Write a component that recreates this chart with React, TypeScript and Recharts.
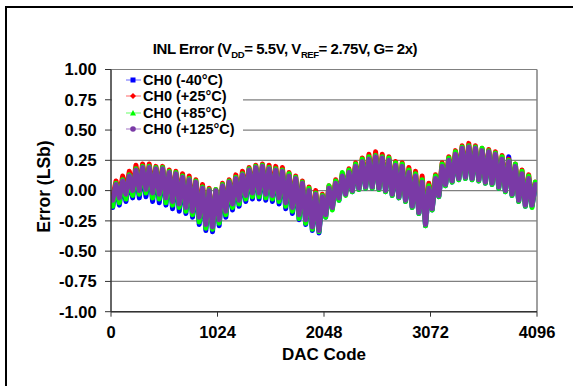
import React from 'react';
import { LineChart, Line, XAxis, YAxis, CartesianGrid, Legend, ReferenceLine } from 'recharts';

const FONT = '"Liberation Sans", Arial, Helvetica, sans-serif';

const X_TICKS = [0, 1024, 2048, 3072, 4096];
const Y_TICKS = [-1, -0.75, -0.5, -0.25, 0, 0.25, 0.5, 0.75, 1];
const SEGMENT_SIZE = 64; // DAC codes per sawtooth segment

// -40°C
const B_LO = [-0.14,-0.12,-0.09,-0.06,-0.06,-0.05,-0.09,-0.10,-0.12,-0.15,-0.17,-0.19,-0.22,-0.28,-0.33,-0.34,-0.29,-0.22,-0.16,-0.13,-0.09,-0.07,-0.07,-0.08,-0.09,-0.11,-0.15,-0.19,-0.24,-0.28,-0.33,-0.35,-0.22,-0.15,-0.08,-0.01,-0.01,0.01,0.02,0.02,0.01,-0.01,-0.04,-0.06,-0.09,-0.14,-0.19,-0.29,-0.16,-0.05,0.04,0.07,0.09,0.10,0.09,0.08,0.06,0.05,0.02,-0.01,-0.04,-0.09,-0.13,-0.13];
const B_HI = [0.04,0.07,0.11,0.16,0.18,0.18,0.17,0.17,0.14,0.13,0.10,0.08,0.06,0.01,-0.01,-0.01,0.03,0.06,0.09,0.12,0.16,0.18,0.19,0.17,0.16,0.15,0.11,0.09,0.05,-0.01,-0.04,-0.06,0.01,0.06,0.11,0.14,0.19,0.23,0.25,0.30,0.26,0.24,0.20,0.19,0.14,0.11,0.06,0.01,0.09,0.19,0.24,0.29,0.34,0.35,0.34,0.32,0.31,0.30,0.25,0.28,0.19,0.13,0.09,0.04];
// +25°C
const R_LO = [-0.06,-0.04,-0.01,0.02,0.02,0.03,0.00,-0.01,-0.04,-0.07,-0.09,-0.12,-0.15,-0.20,-0.26,-0.28,-0.22,-0.15,-0.09,-0.06,-0.02,0.00,0.00,-0.01,-0.02,-0.04,-0.08,-0.12,-0.18,-0.22,-0.28,-0.30,-0.18,-0.12,-0.04,-0.01,0.02,0.04,0.05,0.05,0.04,0.02,-0.01,-0.03,-0.06,-0.10,-0.15,-0.25,-0.12,-0.02,0.07,0.10,0.12,0.13,0.12,0.11,0.09,0.08,0.05,0.02,-0.01,-0.06,-0.10,-0.10];
const R_HI = [0.08,0.12,0.16,0.21,0.22,0.22,0.20,0.20,0.17,0.16,0.14,0.12,0.09,0.05,0.02,0.01,0.06,0.09,0.13,0.16,0.19,0.21,0.22,0.21,0.20,0.19,0.15,0.12,0.08,0.03,0.00,-0.03,0.04,0.09,0.14,0.18,0.23,0.27,0.30,0.32,0.30,0.28,0.24,0.23,0.19,0.16,0.12,0.06,0.13,0.23,0.28,0.33,0.37,0.39,0.37,0.35,0.34,0.32,0.29,0.26,0.22,0.17,0.13,0.07];
// +85°C
const G_LO = [-0.13,-0.10,-0.07,-0.04,-0.03,-0.02,-0.06,-0.07,-0.10,-0.12,-0.14,-0.17,-0.20,-0.26,-0.31,-0.32,-0.27,-0.20,-0.14,-0.11,-0.07,-0.05,-0.05,-0.06,-0.07,-0.09,-0.13,-0.17,-0.23,-0.27,-0.32,-0.34,-0.22,-0.16,-0.08,-0.04,-0.01,0.01,0.02,0.02,0.01,-0.01,-0.04,-0.06,-0.09,-0.14,-0.19,-0.29,-0.16,-0.05,0.04,0.07,0.09,0.10,0.09,0.08,0.06,0.05,0.02,-0.01,-0.04,-0.09,-0.13,-0.14];
const G_HI = [0.06,0.09,0.13,0.18,0.20,0.20,0.19,0.19,0.16,0.15,0.12,0.10,0.08,0.03,0.01,0.01,0.05,0.08,0.11,0.14,0.18,0.20,0.21,0.19,0.18,0.17,0.14,0.11,0.07,0.02,-0.02,-0.04,0.04,0.08,0.15,0.17,0.22,0.26,0.28,0.29,0.28,0.27,0.23,0.22,0.17,0.14,0.09,0.04,0.12,0.22,0.27,0.32,0.36,0.37,0.36,0.35,0.33,0.31,0.28,0.25,0.22,0.16,0.12,0.07];
// +125°C
const P_LO = [-0.08,-0.06,-0.03,0.00,0.00,0.01,-0.02,-0.03,-0.06,-0.09,-0.11,-0.14,-0.17,-0.22,-0.28,-0.30,-0.24,-0.17,-0.11,-0.08,-0.04,-0.02,-0.02,-0.03,-0.04,-0.06,-0.10,-0.14,-0.20,-0.24,-0.30,-0.33,-0.20,-0.14,-0.06,-0.03,0.00,0.02,0.03,0.03,0.02,0.00,-0.03,-0.05,-0.08,-0.13,-0.18,-0.28,-0.15,-0.04,0.05,0.08,0.10,0.11,0.10,0.09,0.07,0.06,0.03,0.00,-0.03,-0.08,-0.12,-0.12];
const P_HI = [0.05,0.08,0.12,0.17,0.19,0.19,0.18,0.18,0.15,0.14,0.11,0.09,0.07,0.02,0.00,0.00,0.04,0.07,0.10,0.13,0.17,0.19,0.20,0.18,0.17,0.16,0.12,0.10,0.06,0.00,-0.03,-0.05,0.02,0.06,0.12,0.15,0.20,0.24,0.26,0.28,0.27,0.25,0.21,0.20,0.15,0.12,0.07,0.02,0.10,0.20,0.25,0.30,0.35,0.36,0.35,0.33,0.32,0.30,0.26,0.24,0.20,0.14,0.10,0.05];

const SERIES = [
  { key: 'm40', name: 'CH0 (-40°C)', color: '#0000ff', light: '#9a9aff', shape: 'square', lo: B_LO, hi: B_HI },
  { key: 'p25', name: 'CH0 (+25°C)', color: '#ff0000', light: '#ff9a9a', shape: 'diamond', lo: R_LO, hi: R_HI },
  { key: 'p85', name: 'CH0 (+85°C)', color: '#00ff00', light: '#9aff9a', shape: 'triangle', lo: G_LO, hi: G_HI },
  { key: 'p125', name: 'CH0 (+125°C)', color: '#7a3aa6', light: '#c0a0d8', shape: 'circle', lo: P_LO, hi: P_HI },
];

const data: any[] = [];
P_LO.forEach((_, k) => {
  const lowRow: any = { code: k * SEGMENT_SIZE + 16 };
  const highRow: any = { code: k * SEGMENT_SIZE + 48 };
  SERIES.forEach((s) => {
    lowRow[s.key] = s.lo[k];
    highRow[s.key] = s.hi[k];
  });
  data.push(lowRow, highRow);
});

function Marker({ shape, color }: { shape: string; color: string }) {
  const cx = 21;
  const cy = 5;
  if (shape === 'square') return <rect x={cx - 2.5} y={cy - 2.5} width={5} height={5} fill={color} />;
  if (shape === 'diamond') return <polygon points={`${cx},${cy - 3} ${cx + 3},${cy} ${cx},${cy + 3} ${cx - 3},${cy}`} fill={color} />;
  if (shape === 'triangle') return <polygon points={`${cx},${cy - 3} ${cx + 3},${cy + 2.5} ${cx - 3},${cy + 2.5}`} fill={color} />;
  return <circle cx={cx} cy={cy} r={2.8} fill={color} />;
}

function LegendBox() {
  return (
    <div style={{ background: '#fff', width: 131, height: 66, paddingTop: 1, boxSizing: 'border-box' }}>
      {SERIES.map((s) => (
        <div
          key={s.key}
          style={{
            display: 'flex',
            alignItems: 'center',
            height: 16.3,
            fontFamily: FONT,
            fontWeight: 'bold',
            fontSize: 14.5,
            color: '#000',
            whiteSpace: 'nowrap',
          }}
        >
          <svg width={31} height={10} style={{ display: 'block', flex: 'none' }}>
            <line x1={14} x2={29} y1={5} y2={5} stroke={s.light} strokeWidth={1.5} />
            <Marker shape={s.shape} color={s.color} />
          </svg>
          <span>{s.name}</span>
        </div>
      ))}
    </div>
  );
}

const tickStyle = { fontFamily: FONT, fontWeight: 'bold', fontSize: 16.5, fill: '#000' } as any;

export default function App() {
  return (
    <div style={{ position: 'absolute', left: 0, top: 0, width: 573, height: 386, background: '#fff', overflow: 'hidden' }}>
      <div
        style={{
          position: 'absolute',
          left: 5,
          top: 6,
          width: 600,
          height: 400,
          borderLeft: '2px solid #000',
          borderTop: '2px solid #000',
        }}
      />
      <div
        style={{
          position: 'absolute',
          left: 0,
          width: 570,
          top: 40,
          textAlign: 'center',
          fontFamily: FONT,
          fontWeight: 'bold',
          fontSize: 15,
          letterSpacing: '-0.45px',
          lineHeight: '17px',
          color: '#000',
          whiteSpace: 'nowrap',
          zIndex: 2,
        }}
      >
        INL Error (V<span style={{ fontSize: 9.5, position: 'relative', top: 4 }}>DD</span>= 5.5V, V
        <span style={{ fontSize: 9.5, position: 'relative', top: 4 }}>REF</span>= 2.75V, G= 2x)
      </div>
      <div style={{ position: 'absolute', left: 0, top: 0 }}>
        <LineChart width={573} height={386} data={data} margin={{ top: 69.5, right: 36, bottom: 44.3, left: 0 }}>
          <CartesianGrid vertical={false} stroke="#808080" strokeWidth={1.2} />
          <ReferenceLine x={4096} stroke="#808080" strokeWidth={1.5} />
          <XAxis
            type="number"
            dataKey="code"
            domain={[0, 4096]}
            ticks={X_TICKS}
            allowDataOverflow
            height={30}
            tick={tickStyle}
            tickSize={5}
            tickMargin={10}
            stroke="#333"
            axisLine={{ stroke: '#333', strokeWidth: 1.5 }}
            tickLine={{ stroke: '#333' }}
            label={{
              content: (p: any) => {
                const vb = p.viewBox || { x: 111, y: 311.7, width: 426 };
                return (
                  <text
                    x={vb.x + vb.width / 2}
                    y={vb.y + 47.8}
                    textAnchor="middle"
                    style={{ fontFamily: FONT, fontWeight: 'bold', fontSize: 17 }}
                    fill="#000"
                  >
                    DAC Code
                  </text>
                );
              },
            }}
          />
          <YAxis
            type="number"
            domain={[-1, 1]}
            ticks={Y_TICKS}
            width={111}
            tick={tickStyle}
            tickSize={6}
            tickMargin={8.3}
            tickFormatter={(v: number) => v.toFixed(2)}
            axisLine={{ stroke: '#333', strokeWidth: 1.5 }}
            tickLine={{ stroke: '#333' }}
            label={{
              content: (p: any) => {
                const vb = p.viewBox || { x: 0, y: 69.5, width: 111, height: 242.2 };
                const x = vb.x + 44;
                const y = vb.y + vb.height / 2 - 4;
                return (
                  <text
                    x={x}
                    y={y}
                    transform={`rotate(-90 ${x} ${y})`}
                    textAnchor="middle"
                    dominantBaseline="central"
                    style={{ fontFamily: FONT, fontWeight: 'bold', fontSize: 17.5 }}
                    fill="#000"
                  >
                    Error (LSb)
                  </text>
                );
              },
            }}
          />
          {SERIES.map((s) => (
            <Line
              key={s.key}
              type="linear"
              dataKey={s.key}
              name={s.name}
              stroke={s.color}
              strokeWidth={5}
              strokeLinejoin="round"
              strokeLinecap="round"
              dot={false}
              activeDot={false}
              isAnimationActive={false}
            />
          ))}
          <Legend
            layout="vertical"
            align="center"
            verticalAlign="middle"
            content={() => <LegendBox />}
            wrapperStyle={{ left: 112, top: 71, width: 131, height: 66 }}
          />
        </LineChart>
      </div>
    </div>
  );
}
